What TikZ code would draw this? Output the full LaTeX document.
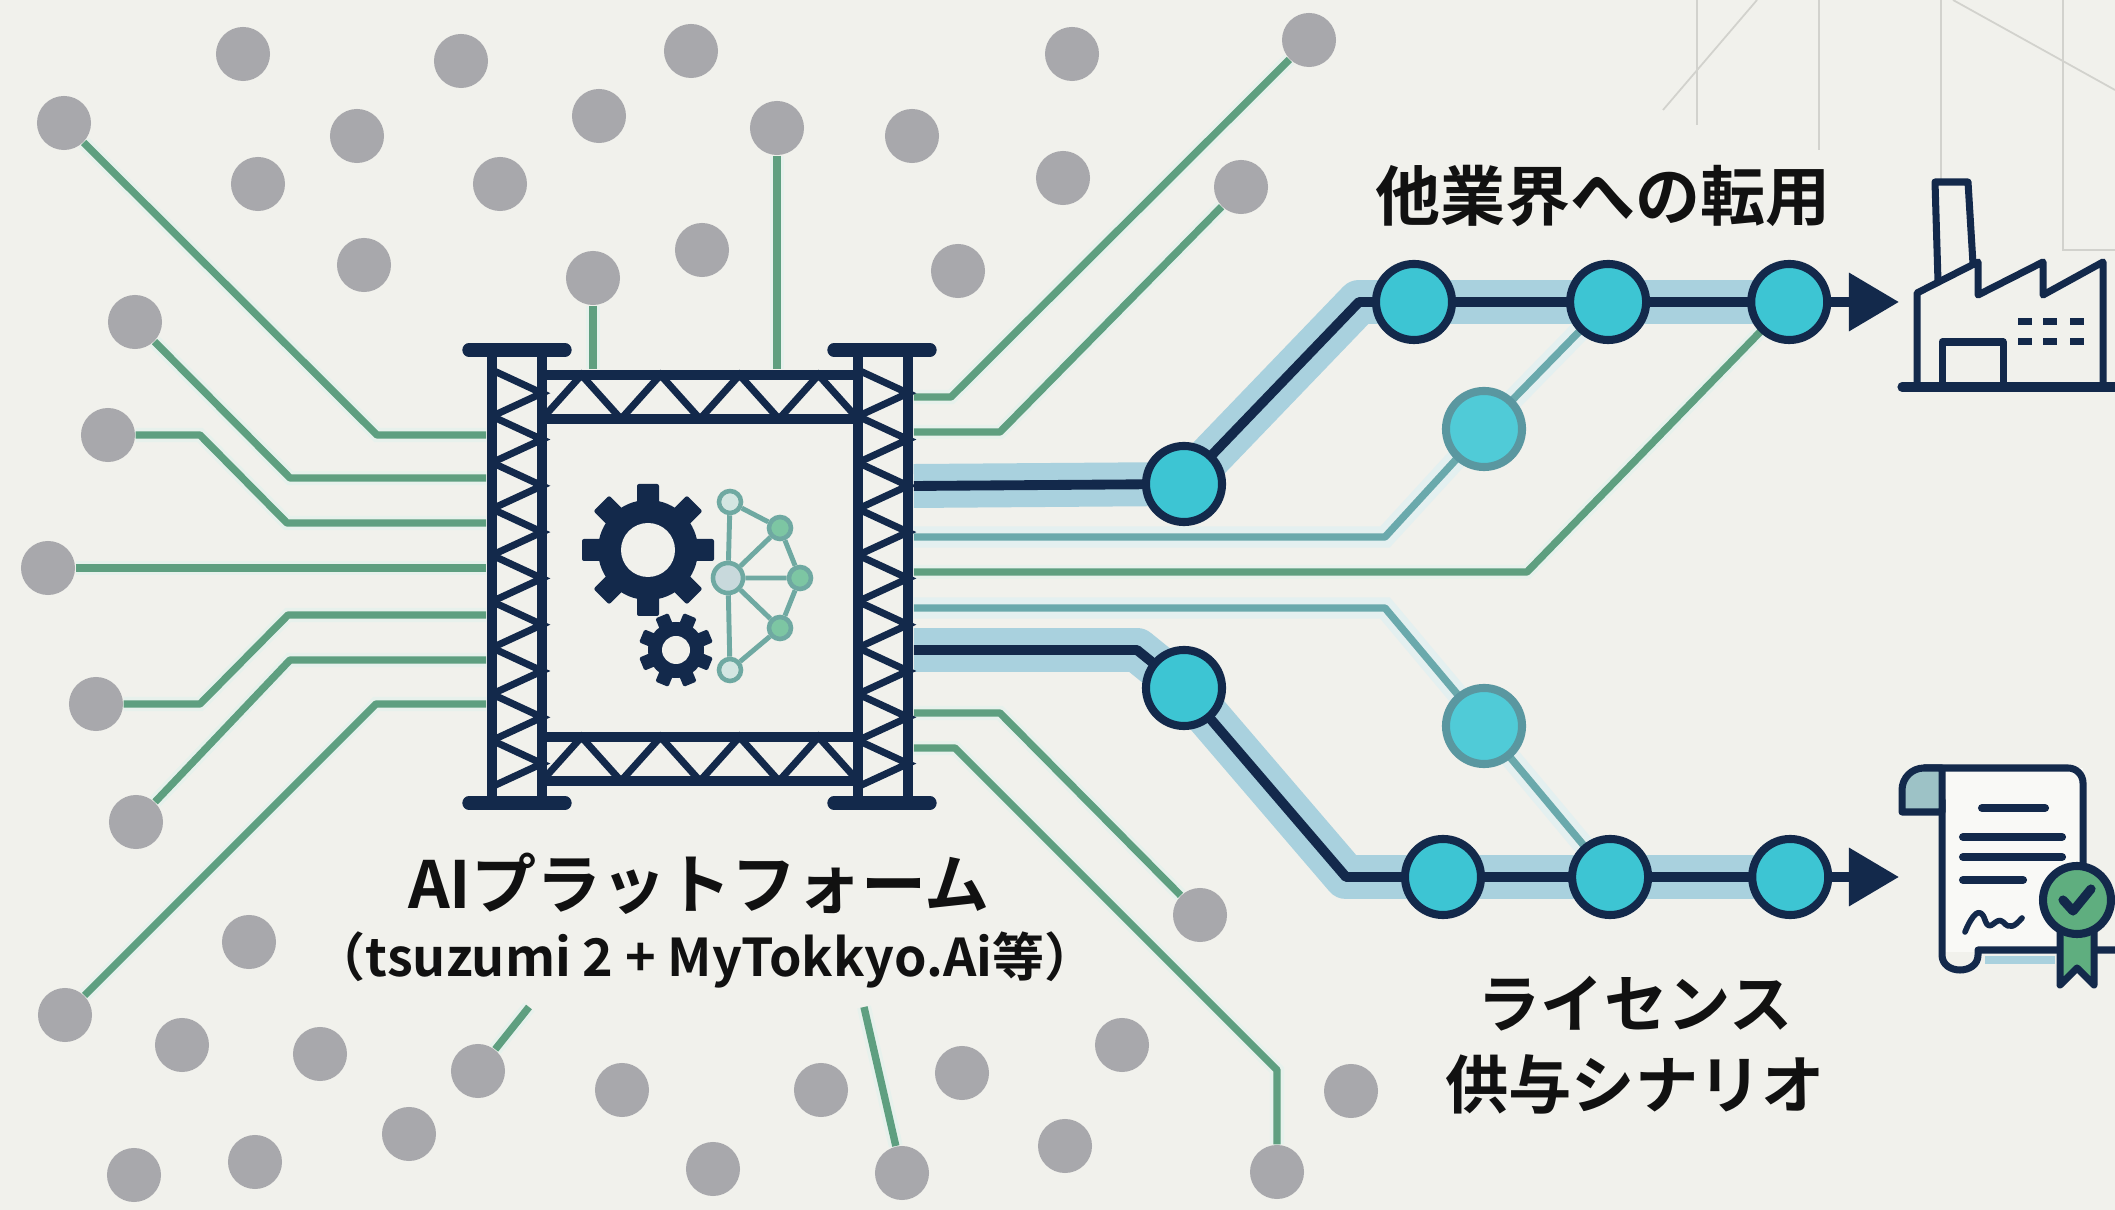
\documentclass[tikz,border=0pt]{standalone}
\usepackage{fontspec}
\newfontfamily\jpfont{Noto Sans CJK JP}[BoldFont={Noto Sans CJK JP Bold}]
\usetikzlibrary{positioning, arrows.meta}

\definecolor{paper}{HTML}{F1F1EC}
\definecolor{navy}{HTML}{13294B}
\definecolor{tracegreen}{HTML}{5E9F80}
\definecolor{tealline}{HTML}{6AA9AC}
\definecolor{dotgray}{HTML}{A8A8AC}
\definecolor{stopcyan}{HTML}{3DC5D3}
\definecolor{midrim}{HTML}{5A97A0}
\definecolor{haloblue}{HTML}{A9D1DE}
\definecolor{faint}{HTML}{D2D2CD}
\definecolor{netteal}{HTML}{6FA9A2}
\definecolor{netgreen}{HTML}{7DC6A3}
\definecolor{netpale}{HTML}{D3E6E2}
\definecolor{hubgray}{HTML}{C8D9DC}
\definecolor{sealgreen}{HTML}{5FAE7F}
\definecolor{curlblue}{HTML}{9DC2C6}
\definecolor{ink}{HTML}{111111}

\pgfdeclarelayer{bg}
\pgfdeclarelayer{back}
\pgfsetlayers{bg,back,main}

\begin{document}
\begin{tikzpicture}[x=0.01cm, y=-0.01cm,
    graydot/.style={circle, fill=dotgray, minimum size=0.54cm, inner sep=0pt},
    trace/.style={draw=tracegreen, line width=2.1pt, line join=round,
      preaction={draw=tracegreen!15, line width=4pt}},
    tealtrace/.style={draw=tealline, line width=2.1pt, line join=round,
      preaction={draw=tealline!18, line width=6pt}},
    glowband/.style={draw=haloblue, line width=12.5pt, line join=round},
    track/.style={draw=navy, line width=2.8pt, line join=round},
    station/.style={circle, draw=navy, line width=2.3pt, fill=stopcyan,
      minimum size=0.76cm, inner sep=0pt},
    midstation/.style={station, draw=midrim, fill=stopcyan!90!white},
    neuron/.style={circle, draw=netteal, line width=1.3pt, inner sep=0pt, minimum size=0.22cm},
    post/.style={draw=navy, line width=2.9pt},
    truss/.style={draw=navy, line width=2pt},
    capbar/.style={draw=navy, line width=3.8pt, line cap=round},
    icon/.style={draw=navy, line width=2pt, line join=round, line cap=round},
    faintline/.style={draw=faint, line width=0.5pt},
    heading/.style={font=\jpfont\bfseries\fontsize{18.5}{23}\selectfont, text=ink, align=center, inner sep=0pt},
    subheading/.style={font=\jpfont\bfseries\fontsize{14.8}{17}\selectfont, text=ink, inner sep=0pt}
  ]
  \useasboundingbox (0,0) rectangle (2115,1210);
  \begin{pgfonlayer}{bg}
    \fill[paper] (0,0) rectangle (2115,1210);
  \end{pgfonlayer}

  \draw[faintline] (1697,0) -- (1697,125);
  \draw[faintline] (1757,0) -- (1663,110);
  \draw[faintline] (1819,0) -- (1819,150);
  \draw[faintline] (1941,0) -- (1941,182);
  \draw[faintline] (1953,0) -- (2115,90);
  \draw[faintline] (2063,0) -- (2063,250) -- (2115,250);

  % scattered pads
  \foreach \xa/\ya [count=\i] in {243/54, 461/61, 691/51, 1072/54, 1309/40, 64/123, 357/136,
      599/116, 777/128, 912/136, 258/184, 500/184, 702/250, 1063/178, 1241/187, 364/265,
      593/278, 958/271, 135/322, 108/435, 48/568, 96/704, 136/822, 65/1015, 249/942,
      182/1045, 320/1054, 478/1071, 622/1090, 821/1090, 962/1073, 1122/1045, 1200/915,
      1351/1091, 134/1175, 255/1162, 409/1134, 713/1169, 902/1173, 1065/1146, 1277/1172}
    \node[graydot] (d\i) at (\xa,\ya) {};

  \node (core) [minimum width=4.26cm, minimum height=4.17cm, inner sep=0pt] at (700,578.5) {};
  \coordinate (stubA) at (529,1007);
  \coordinate (stubB) at (864,1007);

  \draw[trace] (d6) -- (377,435) -- (core.west |- 0,435);
  \draw[trace] (d19) -- (290,478) -- (core.west |- 0,478);
  \draw[trace] (d20) -- (200,435) -- (287,523) -- (core.west |- 0,523);
  \draw[trace] (d21) -- (core.west |- 0,568);
  \draw[trace] (d22) -- (200,704) -- (288,615) -- (core.west |- 0,615);
  \draw[trace] (d23) -- (290,660) -- (core.west |- 0,660);
  \draw[trace] (d24) -- (376,704) -- (core.west |- 0,704);
  \draw[trace] (d17) -- (d17 |- core.north);
  \draw[trace] (d9) -- (d9 |- core.north);
  \draw[trace] (d5) -- (951,397) -- (core.east |- 0,397);
  \draw[trace] (d15) -- (1000,432) -- (core.east |- 0,432);
  \draw[trace] (d33) -- (1000,713) -- (core.east |- 0,713);
  \draw[trace] (d41) -- (1277,1070) -- (955,748) -- (core.east |- 0,748);
  \draw[trace] (d28) -- (stubA);
  \draw[trace] (d39) -- (stubB);

  % truss frame
  \foreach \xl in {492,858} {
    \draw[post] (\xl,352) -- (\xl,800);
    \draw[post] ({\xl+50},352) -- ({\xl+50},800);
    \foreach \k in {0,...,8}
      \draw[truss] (\xl,{370+\k*46.3}) -- ({\xl+50},{393.2+\k*46.3}) -- (\xl,{416.3+\k*46.3});
  }
  \foreach \yt in {375,737} {
    \draw[post] (542,\yt) -- (858,\yt);
    \draw[post] (542,{\yt+44}) -- (858,{\yt+44});
    \foreach \k in {0,...,3}
      \draw[truss] ({542+\k*79},{\yt+44}) -- ({581.5+\k*79},\yt) -- ({621+\k*79},{\yt+44});
  }
  \foreach \xc in {517,882}
    \foreach \yc in {350,803}
      \draw[capbar] ({\xc-48},\yc) -- ({\xc+48},\yc);

  % gears
  \fill[navy] (648,550) circle[radius=50];
  \foreach \a in {0,45,...,315}
    \fill[navy, rotate around={\a:(648,550)}, rounded corners=0.02cm] (637,484) rectangle (659,506);
  \fill[paper] (648,550) circle[radius=27];
  \fill[navy] (676,650) circle[radius=28];
  \foreach \a in {22.5,67.5,...,337.5}
    \fill[navy, rotate around={\a:(676,650)}, rounded corners=0.015cm] (669,613) rectangle (683,626);
  \fill[paper] (676,650) circle[radius=14];

  % network half
  \node[neuron, fill=hubgray, minimum size=0.3cm] (h0) at (728,578) {};
  \node[neuron, fill=netpale] (h1) at (730,502) {};
  \node[neuron, fill=netgreen] (h2) at (780,528) {};
  \node[neuron, fill=netgreen] (h3) at (800,578) {};
  \node[neuron, fill=netgreen] (h4) at (780,628) {};
  \node[neuron, fill=netpale] (h5) at (730,670) {};
  \draw[netteal, line width=1.4pt] (h1) -- (h0) -- (h5) (h1) -- (h2) -- (h3) -- (h4) -- (h5)
    (h0) -- (h2) (h0) -- (h3) (h0) -- (h4);

  \node[heading] (brand) at (699,884) {AIプラットフォーム};
  \node[subheading] (brandsub) at (705,960) {（tsuzumi 2 + MyTokkyo.Ai等）};

  % two routes out of the platform
  \node[station] (n1) at (1184,484) {};
  \node[station] (t1) at (1414,302) {};
  \node[station] (t2) [on grid, right=1.94cm of t1] {};
  \node[station] (t3) [on grid, right=1.81cm of t2] {};
  \node[midstation] (m1) at (1484,429) {};
  \node[station] (n2) at (1184,688) {};
  \node[station] (b1) at (1443,877) {};
  \node[station] (b2) [on grid, right=1.67cm of b1] {};
  \node[station] (b3) [on grid, right=1.80cm of b2] {};
  \node[midstation] (m2) at (1484,726) {};
  \coordinate (tipA) at (1899,302);
  \coordinate (tipB) at (1899,877);

  \begin{pgfonlayer}{back}
    \draw[glowband] (core.east |- 0,486) -- (n1.center) -- (1359,302) -- (t3.center);
    \draw[glowband] (core.east |- 0,650) -- (1137,650) -- (n2.center) -- (1346,877) -- (b3.center);
    \draw[tealtrace] (core.east |- 0,537) -- (1385,537) -- (m1.center) -- (t2.center);
    \draw[trace] (core.east |- 0,572) -- (1527,572) -- (t3.center);
    \draw[tealtrace] (core.east |- 0,608) -- (1385,608) -- (m2.center) -- (b2.center);
    \draw[track] (core.east |- 0,486) -- (n1.center) -- (1359,302) -- (t3.center);
    \draw[track] (core.east |- 0,650) -- (1137,650) -- (n2.center) -- (1346,877) -- (b3.center);
  \end{pgfonlayer}
  \draw[track, -{Triangle[length=0.5cm, width=0.56cm]}] (t3) -- (tipA);
  \draw[track, -{Triangle[length=0.5cm, width=0.56cm]}] (b3) -- (tipB);

  \node[heading] (reuse) at (1603,196) {他業界への転用};
  \node[heading, font=\jpfont\bfseries\fontsize{18}{23}\selectfont] (license) at (1635,1045) {ライセンス\\供与シナリオ};

  % factory
  \draw[icon] (1938,282) -- (1935,182) -- (1968,182) -- (1973,264);
  \draw[icon] (1917,387) -- (1917,293) -- (1978,262) -- (1978,295) -- (2043,262) -- (2043,295)
    -- (2103,262) -- (2103,387);
  \draw[icon] (1942,387) -- (1942,342) -- (2003,342) -- (2003,387);
  \draw[icon, line width=2.6pt] (1902,387) -- (2118,387);
  \foreach \wx in {2025,2050,2077}
    \foreach \wy in {322,342}
      \fill[navy] ({\wx-7},{\wy-3.5}) rectangle ({\wx+7},{\wy+3.5});

  % certificate
  \fill[white!55!paper] (1942,768) rectangle (2083,952);
  \draw[haloblue, line width=2.5pt] (1985,960) -- (2055,960);
  \draw[icon] (1924,768) -- (2068,768) arc[start angle=270, end angle=360, radius=15] -- (2083,880);
  \draw[icon] (1942,800) -- (1942,955) .. controls (1942,975) and (1978,975) .. (1978,955)
    -- (1978,950) -- (2118,950);
  \filldraw[icon, fill=curlblue] (1942,812) -- (1902,812) -- (1902,790)
    arc[start angle=180, end angle=270, radius=22] -- (1942,768) -- cycle;
  \draw[icon, line width=2.3pt] (1982,808) -- (2045,808);
  \draw[icon, line width=2.3pt] (1963,837) -- (2062,837);
  \draw[icon, line width=2.3pt] (1963,857) -- (2062,857);
  \draw[icon, line width=2.3pt] (1963,880) -- (2023,880);
  \draw[icon, line width=1.6pt] (1965,932) .. controls (1972,915) and (1980,905) .. (1985,920)
    .. controls (1990,935) and (1996,915) .. (2003,922) .. controls (2010,930) and (2015,926) .. (2022,918);
  \filldraw[icon, fill=sealgreen] (2060,925) -- (2060,985) -- (2077,968) -- (2094,985) -- (2094,925) -- cycle;
  \filldraw[icon, fill=sealgreen, line width=2.3pt] (2077,900) circle[radius=34];
  \draw[icon, line width=2.6pt] (2063,900) -- (2073,911) -- (2091,889);
\end{tikzpicture}
\end{document}
